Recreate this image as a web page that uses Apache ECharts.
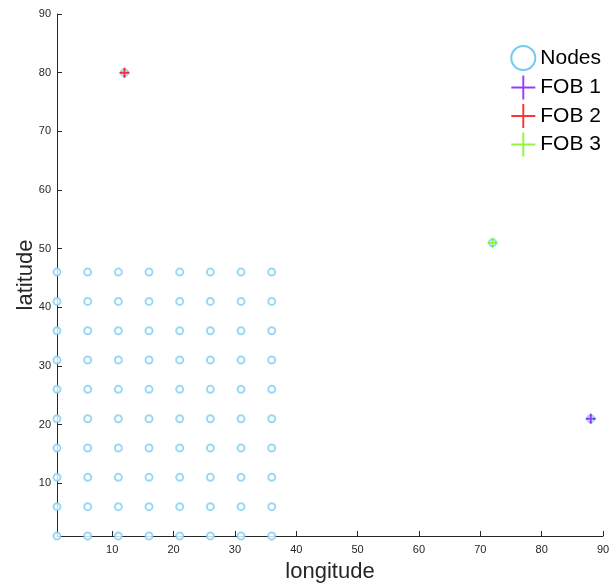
<!DOCTYPE html>
<html>
<head>
<meta charset="utf-8">
<script src="https://cdn.jsdelivr.net/npm/echarts@6/dist/echarts.min.js"></script>
<style>
html,body{margin:0;padding:0;background:#fff;}
#chart{width:616px;height:586px;}
</style>
</head>
<body>
<div id="chart"></div>
<script>
// node grid (longitude / latitude)
var nodeLon=[1,6,11,16,21,26,31,36];
var nodeLat=[1,6,11,16,21,26,31,36,41,46];
// nodes sitting under the FOBs
var extraNodes=[[88,21],[12,80],[72,51]];
var fob1=[[88,21]];
var fob2=[[12,80]];
var fob3=[[72,51]];
var tickVals=[10,20,30,40,50,60,70,80,90];

var nodes=[];
for(var i=0;i<nodeLon.length;i++){
    for(var j=0;j<nodeLat.length;j++){
        nodes.push([nodeLon[i],nodeLat[j]]);
    }
}
for(var k=0;k<extraNodes.length;k++){
    nodes.push(extraNodes[k]);
}

var plusPath='path://M4,0L6,0L6,4L10,4L10,6L6,6L6,10L4,10L4,6L0,6L0,4L4,4Z';
var plusThin='path://M9.2,0L10.8,0L10.8,9.2L20,9.2L20,10.8L10.8,10.8L10.8,20L9.2,20L9.2,10.8L0,10.8L0,9.2L9.2,9.2Z';
var axisColor='#262626';

var chart=echarts.init(document.getElementById('chart'));
var option={
    animation:false,
    grid:{left:57,right:13,top:14,bottom:50,outerBoundsMode:'none'},
    legend:{
        right:10,
        top:40,
        orient:'vertical',
        itemWidth:24,
        itemHeight:24,
        itemGap:4.5,
        textStyle:{fontSize:21,color:'#000',fontFamily:'Liberation Sans, Arial, sans-serif'},
        data:[
            {name:'Nodes',icon:'circle',itemStyle:{color:'#fff',borderColor:'#4DBEEE',borderWidth:2}},
            {name:'FOB 1',icon:plusThin},
            {name:'FOB 2',icon:plusThin},
            {name:'FOB 3',icon:plusThin}
        ]
    },
    xAxis:{
        type:'value',
        min:1,
        max:90,
        name:'longitude',
        nameLocation:'middle',
        nameGap:25,
        nameMoveOverlap:false,
        nameTextStyle:{fontSize:22,color:'#262626',fontFamily:'Liberation Sans, Arial, sans-serif'},
        axisLine:{onZero:false,lineStyle:{color:axisColor,width:1}},
        axisTick:{inside:true,length:5,customValues:tickVals,lineStyle:{color:axisColor}},
        axisLabel:{customValues:tickVals,fontSize:11,color:'#262626',margin:8},
        splitLine:{show:false}
    },
    yAxis:{
        type:'value',
        min:1,
        max:90,
        name:'latitude',
        nameLocation:'middle',
        nameGap:20,
        nameMoveOverlap:false,
        nameTextStyle:{fontSize:22,color:'#262626',fontFamily:'Liberation Sans, Arial, sans-serif'},
        axisLine:{onZero:false,lineStyle:{color:axisColor,width:1}},
        axisTick:{inside:true,length:5,customValues:tickVals,lineStyle:{color:axisColor}},
        axisLabel:{customValues:tickVals,fontSize:11,color:'#262626',margin:6},
        splitLine:{show:false}
    },
    series:[
        {
            name:'Nodes',
            type:'scatter',
            symbol:'emptyCircle',
            symbolSize:7,
            itemStyle:{color:'#7fcff0',borderColor:'#7fcff0',borderWidth:0.8},
            data:nodes,
            z:1
        },
        {
            name:'FOB 1',
            type:'scatter',
            symbol:plusPath,
            symbolSize:10,
            itemStyle:{color:'#7E0CF2'},
            data:fob1,
            z:2
        },
        {
            name:'FOB 2',
            type:'scatter',
            symbol:plusPath,
            symbolSize:10,
            itemStyle:{color:'#FF0000'},
            data:fob2,
            z:2
        },
        {
            name:'FOB 3',
            type:'scatter',
            symbol:plusPath,
            symbolSize:10,
            itemStyle:{color:'#77F20C'},
            data:fob3,
            z:2
        }
    ]
};
chart.setOption(option);
</script>
</body>
</html>
